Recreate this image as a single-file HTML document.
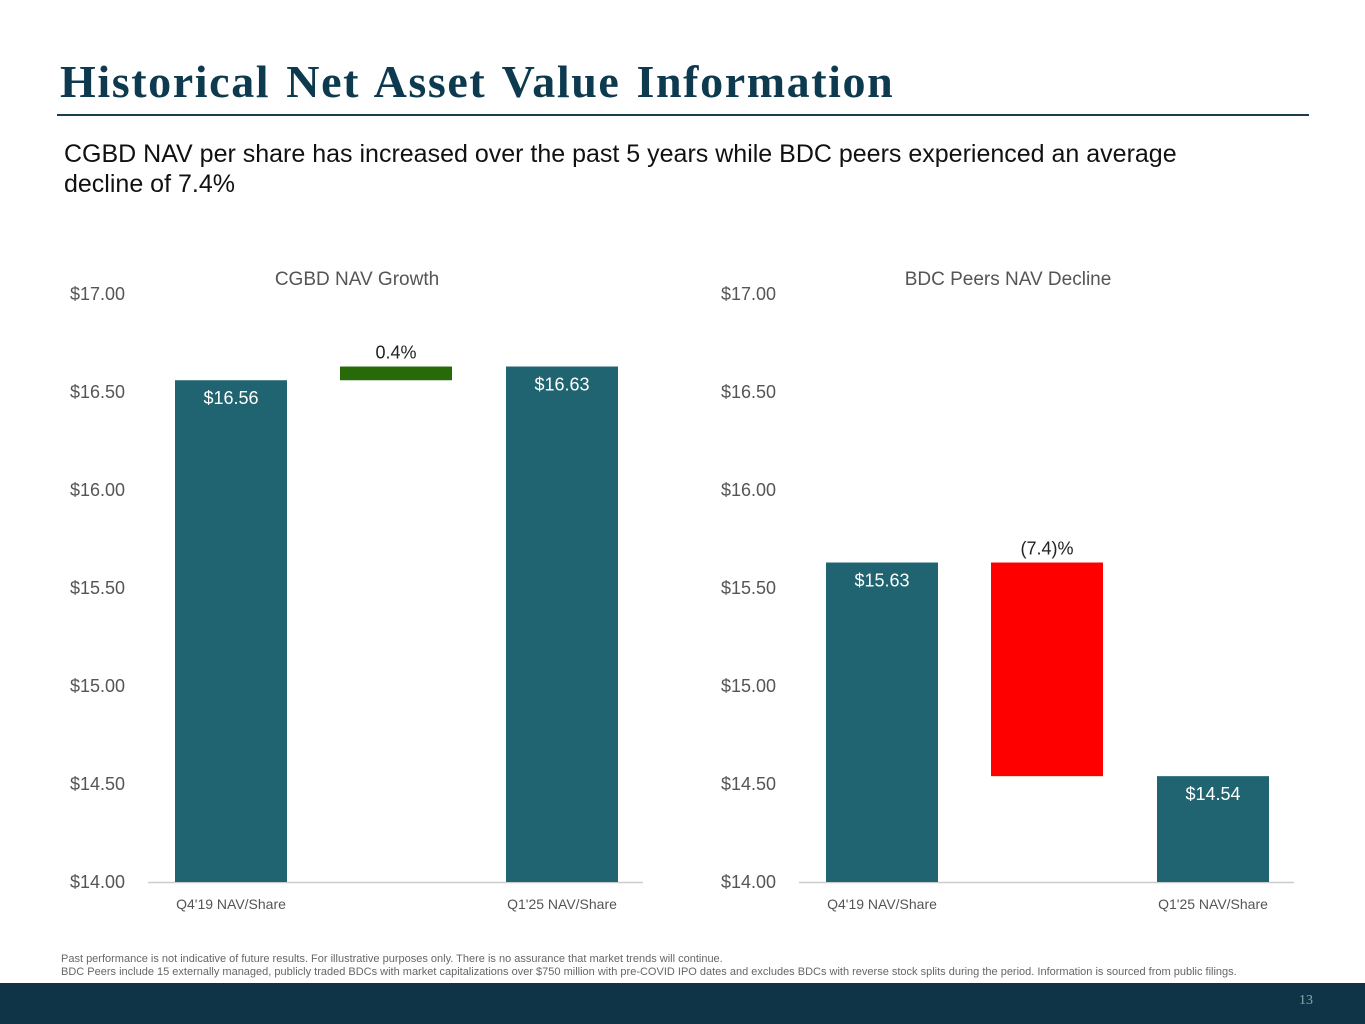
<!DOCTYPE html>
<html><head><meta charset="utf-8"><style>
body{margin:0;width:1365px;height:1024px;position:relative;background:#fff;font-family:"Liberation Sans",sans-serif;overflow:hidden}
#title{position:absolute;left:60px;top:55px;font-family:"Liberation Serif",serif;font-weight:bold;font-size:46px;color:#0e3a4f;letter-spacing:1.6px;word-spacing:3px}
#rule{position:absolute;left:57px;top:114px;width:1252px;height:2px;background:#1b3d4d}
#sub{position:absolute;left:64px;top:139px;font-size:25px;line-height:30px;color:#111;width:1150px}
#foot{position:absolute;left:61px;top:953px;font-size:11px;line-height:13px;color:#666;white-space:nowrap}
#band{position:absolute;left:0;top:983px;width:1365px;height:41px;background:#0f3447}
#pg{position:absolute;right:52px;top:993px;font-family:"Liberation Serif",serif;font-size:14px;color:#8aa}
svg{position:absolute;left:0;top:0}
</style></head><body>
<div id="title">Historical Net Asset Value Information</div>
<div id="rule"></div>
<div id="sub">CGBD NAV per share has increased over the past 5 years while BDC peers experienced an average<br>decline of 7.4%</div>
<svg id="chart" width="1365" height="1024"></svg>
<div id="foot">Past performance is not indicative of future results. For illustrative purposes only. There is no assurance that market trends will continue.<br>BDC Peers include 15 externally managed, publicly traded BDCs with market capitalizations over $750 million with pre-COVID IPO dates and excludes BDCs with reverse stock splits during the period. Information is sourced from public filings.</div>
<div id="band"></div>
<div id="pg">13</div>
<script>
const ticks=[14,14.5,15,15.5,16,16.5,17];
const categories=["Q4'19 NAV/Share","Q1'25 NAV/Share"];
const cgbdValues=[16.56,16.63];
const cgbdChangeLabel="0.4%";
const peerValues=[15.63,14.54];
const peerChangeLabel="(7.4)%";
const NS="http://www.w3.org/2000/svg";
const svg=document.getElementById('chart');
function el(t,a,txt){const e=document.createElementNS(NS,t);for(const k in a)e.setAttribute(k,a[k]);if(txt!=null)e.textContent=txt;svg.appendChild(e);return e;}
const y=v=>882-(v-14)*196;
function draw(x0,title,vals,chg,chgColor,name){
  const t=el('text',{x:x0+238,y:285,'text-anchor':'middle','font-size':19,fill:'#555'},title);
  
  ticks.forEach(v=>{const l=el('text',{x:x0+6,y:y(v)+6,'text-anchor':'end','font-size':18,fill:'#555'},'$'+v.toFixed(2));
    });
  const ax=el('line',{x1:x0+29,x2:x0+524,y1:882.5,y2:882.5,stroke:'#ccc','stroke-width':1.5});
  
  const cx=[x0+112,x0+277,x0+443];
  [0,1].forEach(i=>{const xc=i?cx[2]:cx[0];
    const r=el('rect',{x:xc-56,y:y(vals[i]),width:112,height:882-y(vals[i]),fill:'#1f6470'});
    
    const lb=el('text',{x:xc,y:y(vals[i])+24,'text-anchor':'middle','font-size':18,fill:'#fff'},'$'+vals[i].toFixed(2));
    
    const c=el('text',{x:xc,y:909,'text-anchor':'middle','font-size':14,fill:'#555'},categories[i]);
    });
  const top=y(Math.max(vals[0],vals[1])),bot=y(Math.min(vals[0],vals[1]));
  const w=el('rect',{x:cx[1]-56,y:top,width:112,height:bot-top,fill:chgColor});
  
  const cl=el('text',{x:cx[1],y:top-8,'text-anchor':'middle','font-size':18,fill:'#222'},chg);
  
}
draw(119,'CGBD NAV Growth',cgbdValues,cgbdChangeLabel,'#266a0a','cgbd');
draw(770,'BDC Peers NAV Decline',peerValues,peerChangeLabel,'#ff0000','peers');
</script>
</body></html>
